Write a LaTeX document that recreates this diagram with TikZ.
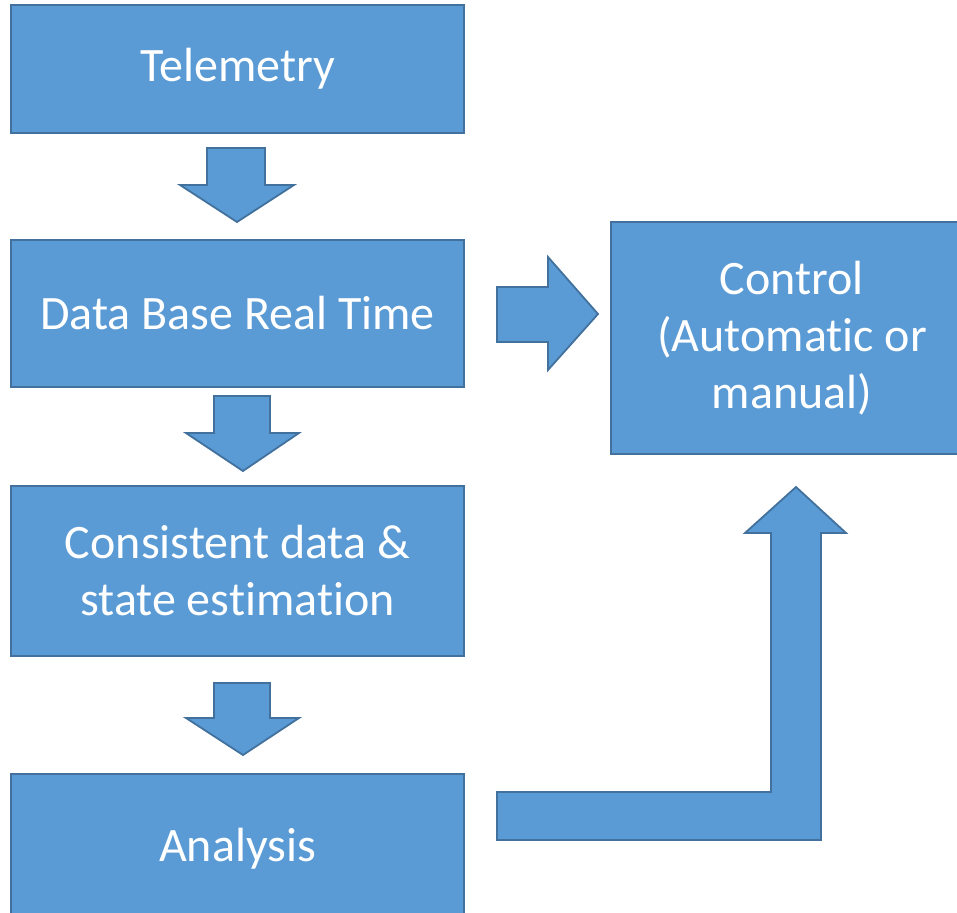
\documentclass[tikz,border=0pt]{standalone}
\usepackage{fontspec}
\setmainfont{Carlito}[Ligatures={NoCommon}]
\definecolor{boxfill}{HTML}{5B9BD5}
\definecolor{boxline}{HTML}{41719C}

\begin{document}
\begin{tikzpicture}[x=1pt, y=-1pt,
    block/.style={rectangle, fill=boxfill, draw=boxline, line width=1.8pt,
        text=white, inner sep=0pt, align=center,
        font=\fontsize{48}{57}\selectfont},
    blockarrow/.style={fill=boxfill, draw=boxline, line width=1.8pt, line join=miter}]
    \useasboundingbox (0,0) rectangle (957,912);
    \clip (0,0) rectangle (957,912);

    % left column
    \node[block, minimum width=453pt, minimum height=128pt] (tele) at (237.5,69) {Telemetry};
    \node[block, minimum width=453pt, minimum height=147pt] (dbrt) at (237.5,313.5) {Data Base Real Time};
    \node[block, minimum width=453pt, minimum height=170pt] (cons) at (237.5,571) {Consistent data \&\\state estimation};
    \node[block, minimum width=453pt, minimum height=150pt] (anal) at (237.5,849) {Analysis};

    % right box
    \node[block, minimum width=362pt, minimum height=232pt] (ctrl) at (792,338) {Control\\(Automatic or\\manual)};

    % block arrows
    \draw[blockarrow] (207,148) -- (265,148) -- (265,185) -- (294,185) -- (237,222) -- (180,185) -- (207,185) -- cycle;
    \draw[blockarrow] (214,396) -- (270,396) -- (270,433) -- (299,433) -- (243,471) -- (186,433) -- (214,433) -- cycle;
    \draw[blockarrow] (214,683) -- (270,683) -- (270,718) -- (299,718) -- (243,755) -- (186,718) -- (214,718) -- cycle;
    \draw[blockarrow] (497,287) -- (548,287) -- (548,257) -- (598,314) -- (548,370) -- (548,342) -- (497,342) -- cycle;
    \draw[blockarrow] (497,792) -- (771,792) -- (771,533) -- (745,533) -- (796,487) -- (846,533) -- (821,533) -- (821,840) -- (497,840) -- cycle;
\end{tikzpicture}
\end{document}
